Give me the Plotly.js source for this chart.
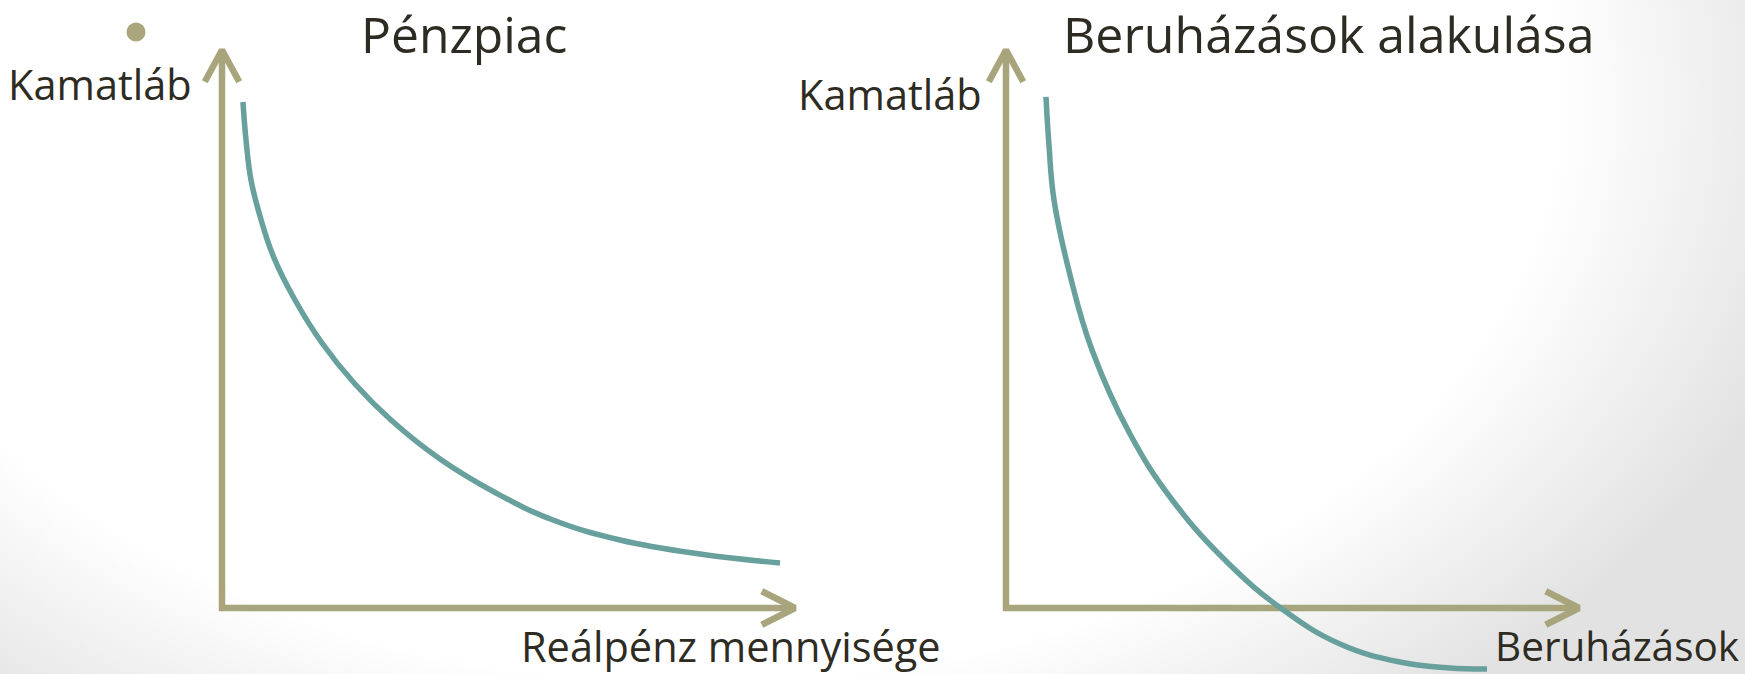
<!DOCTYPE html>
<html>
<head>
<meta charset="utf-8">
<script src="https://cdn.plot.ly/plotly-3.0.1.min.js"></script>
<style>
  html, body { margin: 0; padding: 0; }
  body {
    width: 1745px; height: 674px; overflow: hidden;
    background: radial-gradient(ellipse 63% 110% at 40% 15%, #ffffff 78%, #e2e2e2 105%);
  }
  #chart { width: 1745px; height: 674px; }
</style>
</head>
<body>
<div id="chart"></div>
<script>
// ---- data (abstract units: each axis runs from 0 to 10) ----
const axisMax = 10;
const titles = ['Pénzpiac', 'Beruházások alakulása'];
const yLabels = ['Kamatláb', 'Kamatláb'];
const xLabels = ['Reálpénz mennyisége', 'Beruházások'];

// Money market: real money demand vs interest rate
const moneyX = [0.366, 0.419, 0.506, 0.663, 0.908, 1.274, 1.745, 2.321, 2.949, 3.805, 4.782, 5.777, 6.946, 8.342, 9.738];
const moneyY = [9.068, 8.387, 7.670, 7.025, 6.272, 5.520, 4.749, 4.014, 3.369, 2.670, 2.061, 1.577, 1.219, 0.968, 0.806];

// Investment vs interest rate
const invX = [0.698, 0.750, 0.838, 1.117, 1.501, 2.164, 2.914, 3.874, 4.817, 5.829, 6.876, 7.749, 8.394];
const invY = [9.158, 8.297, 7.312, 5.968, 4.624, 3.118, 1.918, 0.806, -0.018, -0.645, -0.968, -1.075, -1.093];

// ---- layout helpers ----
const W = 1745, H = 674;
const SX = 57.3, SY = 55.8;            // px per unit
const panels = [
  { ox: 222,  oy: 608, left: 150, right: 880 },
  { ox: 1006, oy: 608, left: 900, right: 1745 }
];
const TOP = 10, BOTTOM = 674;
const px = x => x / W;
const py = y => 1 - y / H;

const axisColor = '#a8a47b';
const curveColor = '#67a09c';
const textColor = '#2e2b22';
const headLen = 0.57, headHalfW = 0.30, headLenX = 0.58, headHalfH = 0.30;

const traces = [];
const layout = {
  width: W, height: H,
  margin: { l: 0, r: 0, t: 0, b: 0 },
  paper_bgcolor: 'rgba(0,0,0,0)',
  plot_bgcolor: 'rgba(0,0,0,0)',
  showlegend: false,
  annotations: [],
  shapes: []
};

panels.forEach((p, i) => {
  const xa = i === 0 ? 'x' : 'x2';
  const ya = i === 0 ? 'y' : 'y2';
  const xKey = i === 0 ? 'xaxis' : 'xaxis2';
  const yKey = i === 0 ? 'yaxis' : 'yaxis2';
  layout[xKey] = {
    domain: [px(p.left), px(p.right)],
    range: [(p.left - p.ox) / SX, (p.right - p.ox) / SX],
    visible: false, fixedrange: true, anchor: ya
  };
  layout[yKey] = {
    domain: [py(BOTTOM), py(TOP)],
    range: [(p.oy - BOTTOM) / SY, (p.oy - TOP) / SY],
    visible: false, fixedrange: true, anchor: xa
  };
  // axes with open arrowheads
  traces.push({
    type: 'scatter', mode: 'lines', xaxis: xa, yaxis: ya, hoverinfo: 'skip',
    x: [0, 0, axisMax, null, -headHalfW, 0, headHalfW, null, axisMax - headLenX, axisMax, axisMax - headLenX],
    y: [axisMax, 0, 0, null, axisMax - headLen, axisMax, axisMax - headLen, null, headHalfH, 0, -headHalfH],
    line: { color: axisColor, width: 6.5 }
  });
});

traces.push({
  type: 'scatter', mode: 'lines', xaxis: 'x', yaxis: 'y', hoverinfo: 'skip',
  x: moneyX, y: moneyY,
  line: { color: curveColor, width: 5.5, shape: 'spline', smoothing: 1.2 }
});
traces.push({
  type: 'scatter', mode: 'lines', xaxis: 'x2', yaxis: 'y2', hoverinfo: 'skip',
  x: invX, y: invY,
  line: { color: curveColor, width: 5.5, shape: 'spline', smoothing: 1.2 }
});

const FONT = 'Open Sans, Noto Sans, sans-serif';
function label(text, xLeft, baseline, size) {
  layout.annotations.push({
    text: text, showarrow: false, xref: 'paper', yref: 'paper',
    x: px(xLeft), y: py(baseline - 0.388 * size),
    xanchor: 'left', yanchor: 'middle', borderpad: 0,
    font: { family: FONT, size: size, color: textColor }
  });
}
label(titles[0], 360, 53, 49.8);
label(titles[1], 1062, 53, 50);
label(yLabels[0], 7, 100, 41.5);
label(yLabels[1], 797, 110, 41.5);
label(xLabels[0], 520, 662, 41.5);
label(xLabels[1], 1494, 661, 40.5);

// slide bullet
layout.shapes.push({
  type: 'circle', xref: 'paper', yref: 'paper',
  x0: px(126.5), x1: px(145.5), y0: py(41.5), y1: py(22.5),
  fillcolor: '#aaa57d', line: { width: 0 }
});

Plotly.newPlot('chart', traces, layout, { displayModeBar: false, staticPlot: true });
</script>
</body>
</html>
